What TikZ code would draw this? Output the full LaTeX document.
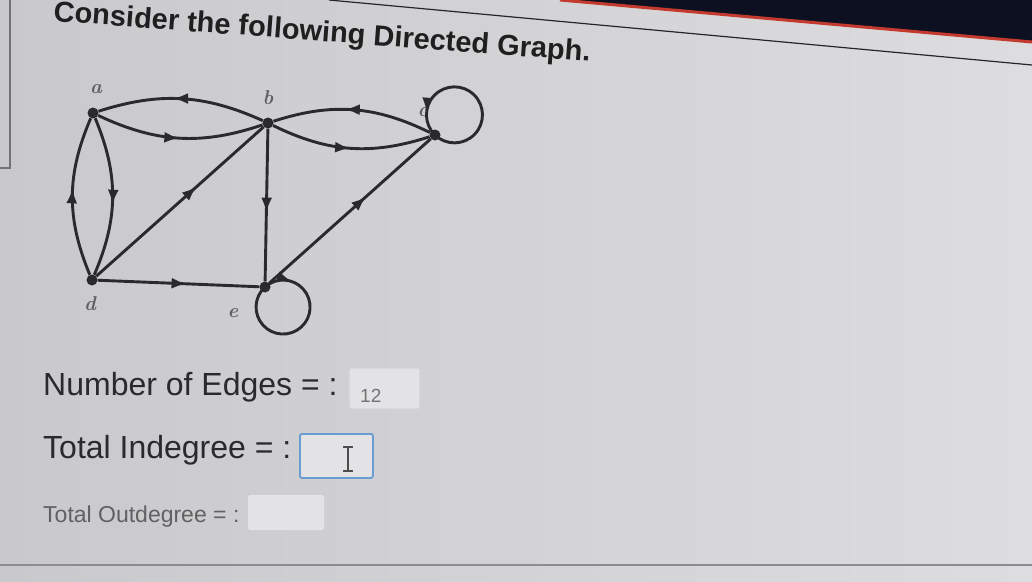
\documentclass[tikz,border=0pt]{standalone}
\usepackage{fontspec}
\newfontfamily\uisans{Liberation Sans}
\usetikzlibrary{arrows.meta,decorations.markings}
\definecolor{bgl}{HTML}{C9C9CD}
\definecolor{bgr}{HTML}{DDDDDF}
\definecolor{ink}{HTML}{2A2A2E}
\definecolor{txt}{HTML}{2A2A2E}
\definecolor{navy}{HTML}{0C1020}
\definecolor{redl}{HTML}{C43A2E}
\definecolor{boxblue}{HTML}{6A9BD1}
\begin{document}
\begin{tikzpicture}[x=1pt,y=1pt,
  vtx/.style={circle,fill=ink,inner sep=0pt,minimum size=11pt},
  vlabel/.style={font=\itshape\bfseries\fontsize{20}{22}\selectfont,text=black!62},
  edge/.style={draw=ink,line width=2.9pt},
  midarrow/.style={postaction={decorate,decoration={markings,
      mark=at position #1 with {\arrow{Latex[length=15pt,width=11pt]}}}}},
  midarrow/.default=0.55,
  formtext/.style={font=\uisans\fontsize{32}{36}\selectfont,text=txt,anchor=base west,inner sep=0pt},
  fieldbox/.style={draw=black!25,line width=1pt,rounded corners=2pt,fill=white!18!bgr}
]
% background and frame
\useasboundingbox (0,0) rectangle (1032,-581);
\shade[left color=bgl,right color=bgr] (0,0) rectangle (1032,-581);
\fill[navy] (560,0) -- (1032,0) -- (1032,-42) -- cycle;
\draw[redl,line width=3pt] (560,0) -- (1032,-42);
\draw[black!85,line width=1.2pt] (329,0) -- (1032,-65);
\draw[black!55,line width=1.2pt] (10,0) -- (10,-168) -- (0,-168);
\draw[black!45,line width=1.5pt] (0,-565) -- (1032,-565);

% title
\node[anchor=base west,rotate=-4.3,inner sep=0pt,
      font=\uisans\bfseries\fontsize{29}{33}\selectfont,text=black!88]
      (title) at (53,-21) {Consider the following Directed Graph.};

% vertices
\node[vtx] (a) at (93,-113) {};
\node[vtx] (b) at (268,-123) {};
\node[vtx] (c) at (435,-135) {};
\node[vtx] (d) at (92,-280) {};
\node[vtx] (e) at (265,-287) {};
\node[vlabel] (la) at (96,-89) {a};
\node[vlabel] (lb) at (268,-98) {b};
\node[vlabel] (lc) at (423,-112) {c};
\node[vlabel] (ld) at (90,-304) {d};
\node[vlabel] (le) at (233,-313) {e};

% edges
\draw[edge,midarrow=0.55] (b) to[bend right=21] (a);
\draw[edge,midarrow=0.5] (a) to[bend right=22] (b);
\draw[edge,midarrow=0.55] (c) to[bend right=22] (b);
\draw[edge,midarrow=0.5] (b) to[bend right=22] (c);
\draw[edge,midarrow=0.55] (d) to[bend left=23] (a);
\draw[edge,midarrow=0.55] (a) to[bend left=23] (d);
\draw[edge,midarrow=0.6] (d) -- (b);
\draw[edge,midarrow=0.55] (b) -- (e);
\draw[edge,midarrow=0.6] (e) -- (c);
\draw[edge,midarrow=0.55] (d) -- (e);
% loops
\draw[edge,midarrow=0.86] (c.center) arc[start angle=226,end angle=586,radius=28];
\draw[edge,midarrow=0.17] (e.center) arc[start angle=132,end angle=-228,radius=27];

% form fields
\node[fieldbox,draw=black!15,minimum width=70pt,minimum height=40pt,anchor=north west] (box1) at (349,-368) {};
\node[formtext] (t1) at (43,-395) {Number of Edges = :};
\node[font=\uisans\fontsize{19}{22}\selectfont,text=black!55,anchor=base west,inner sep=0pt] (v1) at (360,-402) {12};

\node[fieldbox,draw=boxblue,line width=1.8pt,minimum width=73pt,minimum height=44pt,anchor=north west] (box2) at (299,-433) {};
\node[formtext] (t2) at (43,-458) {Total Indegree = :};
\coordinate (cur) at (348,-459);
\draw[black!70,line width=1.5pt] ([yshift=12pt]cur) -- ([yshift=-12pt]cur)
  ([xshift=-5pt,yshift=12pt]cur) -- ([xshift=5pt,yshift=12pt]cur)
  ([xshift=-5pt,yshift=-12pt]cur) -- ([xshift=5pt,yshift=-12pt]cur);

\node[fieldbox,draw=black!10,minimum width=75pt,minimum height=34pt,anchor=north west] (box3) at (248,-495) {};
\node[formtext,font=\uisans\fontsize{23}{26}\selectfont,text=black!62] (t3) at (43,-522) {Total Outdegree = :};
\end{tikzpicture}
\end{document}
